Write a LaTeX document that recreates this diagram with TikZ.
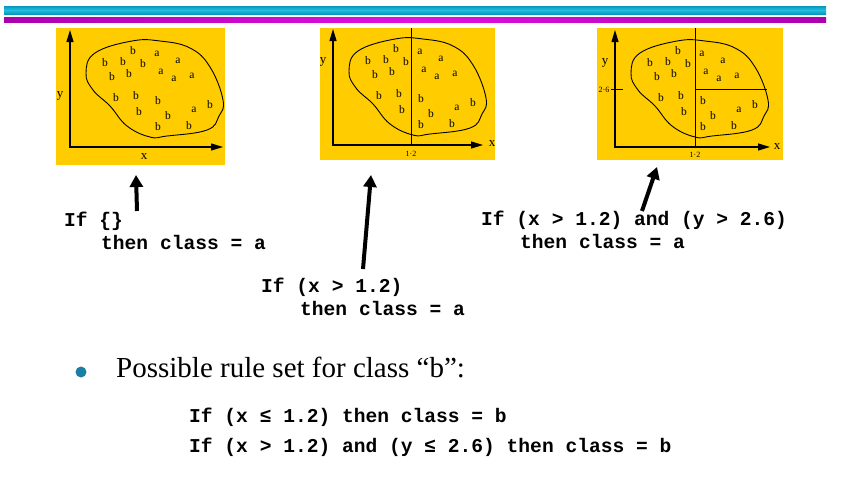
\documentclass[tikz,border=0pt]{standalone}
\usepackage{fontspec}
\setmainfont{Liberation Serif}
\setmonofont{Liberation Mono}
\usepackage{xcolor}
\usetikzlibrary{arrows.meta}
\definecolor{panelyellow}{HTML}{FFCC00}
\definecolor{barcyan}{HTML}{22BEDE}
\definecolor{barcyandark}{HTML}{0896BE}
\definecolor{barpurple}{HTML}{AC00B0}
\definecolor{barmagenta}{HTML}{E010E0}
\definecolor{bulletteal}{HTML}{1A7FA3}

\begin{document}
\begin{tikzpicture}[x=1pt,y=-1pt]
\tikzstyle{panel} = [fill=panelyellow]
\tikzstyle{axis} = [draw, line width=1.1pt, {Triangle[length=12pt,width=7pt]}-{Triangle[length=12pt,width=7pt]}]
\tikzstyle{blob} = [draw, line width=0.9pt]
\tikzstyle{divider} = [draw, line width=0.9pt]
\tikzstyle{sample} = [font=\fontsize{11.5}{12}\selectfont, inner sep=0pt]
\tikzstyle{axislabel} = [font=\fontsize{13}{14}\selectfont, inner sep=0pt]
\tikzstyle{ticklabel} = [font=\fontsize{8}{9}\selectfont, inner sep=0pt]
\tikzstyle{rule} = [font=\ttfamily\bfseries\fontsize{19.6}{23}\selectfont, anchor=base west, inner sep=0pt]
\tikzstyle{pointer} = [draw, line width=4pt, -{Triangle[length=12pt,width=13pt]}]

\useasboundingbox (0,0) rectangle (852,483);
\fill[white] (0,0) rectangle (852,483);

% title bars
\shade[top color=barcyandark, bottom color=barcyandark, middle color=barcyan] (4,6) rectangle (826,14);
\shade[left color=barpurple, right color=barpurple, middle color=barmagenta] (4,17) rectangle (826,22);

% panels
\fill[panel] (56,28) rectangle (225,165);
\fill[panel] (320,28) rectangle (495,160);
\fill[panel] (597,28) rectangle (783,160);

% axes
\draw[axis] (70,30) -- (70,147) -- (223,147);
\draw[axis] (333,29) -- (333,145) -- (483,145);
\draw[axis] (615,30) -- (615,147) -- (770,147);

% splits
\draw[divider] (411,28) -- (411,145);
\draw[divider] (695,28) -- (695,147);
\draw[divider] (695,89) -- (767,89);
\draw[divider] (611,89) -- (623,89);

% same data set in each panel
\foreach \ox/\oy [count=\n] in {70/147, 333/145, 615/147}{
  \begin{scope}[shift={(\ox,\oy)}]
    \draw[blob] plot[smooth cycle, tension=0.7] coordinates {(62,-106) (90,-106) (120,-99) (140,-80) (153,-47) (149,-31) (137,-17) (97,-11) (80,-10) (57,-21) (40,-41) (23,-57) (16,-74) (25,-94)};
    \foreach \px/\py/\lab [count=\k] in {63/-96/b, 87/-93/a, 35/-84/b, 53/-85/b, 73/-83/b, 108/-86/a, 42/-70/b, 59/-73/b, 91/-75/a, 104/-68/a, 122/-71/a, 46/-49/b, 66/-51/b, 88/-46/b, 69/-35/b, 98/-31/b, 124/-37/a, 140/-42/b, 88/-20/b, 119/-21/b}
      \node[sample] (s\n-\k) at (\px,\py) {\lab};
  \end{scope}
}

% axis labels
\node[axislabel] (yA) at (60,96) {y};
\node[axislabel] (xA) at (144,157) {x};
\node[axislabel] (yB) at (323,62) {y};
\node[axislabel] (xB) at (492,144) {x};
\node[ticklabel] (cutB) at (411,154) {1·2};
\node[axislabel] (yC) at (605,63) {y};
\node[ticklabel] (cutCy) at (604,90) {2·6};
\node[axislabel] (xC) at (777,147) {x};
\node[ticklabel] (cutC) at (695,155) {1·2};

% rules
\node[rule] (ruleA) at (64,226) {If \{\}};
\node[rule] (ruleAthen) at (101,249) {then class = a};
\node[rule] (ruleB) at (261,292) {If (x > 1.2)};
\node[rule] (ruleBthen) at (300,315) {then class = a};
\node[rule] (ruleC) at (481,225) {If (x > 1.2) and (y > 2.6)};
\node[rule] (ruleCthen) at (520,248) {then class = a};

% pointers
\coordinate (tailA) at (137,211);
\coordinate (tipA) at (136,175);
\coordinate (tailB) at (363,269);
\coordinate (tipB) at (371,175);
\coordinate (tailC) at (642,211);
\coordinate (tipC) at (657,167);
\path[pointer] (tailA) -- (tipA);
\path[pointer] (tailB) -- (tipB);
\path[pointer] (tailC) -- (tipC);

% rule set for b
\node[circle, fill=bulletteal, minimum size=11pt, inner sep=0pt] (bullet) at (81,372) {};
\node[anchor=base west, inner sep=0pt, font=\fontsize{29}{33}\selectfont] (ruleset) at (116,377) {Possible rule set for class “b”:};
\node[rule] (ruleB1) at (189,422) {If (x ≤ 1.2) then class = b};
\node[rule] (ruleB2) at (189,452) {If (x > 1.2) and (y ≤ 2.6) then class = b};

\end{tikzpicture}
\end{document}
